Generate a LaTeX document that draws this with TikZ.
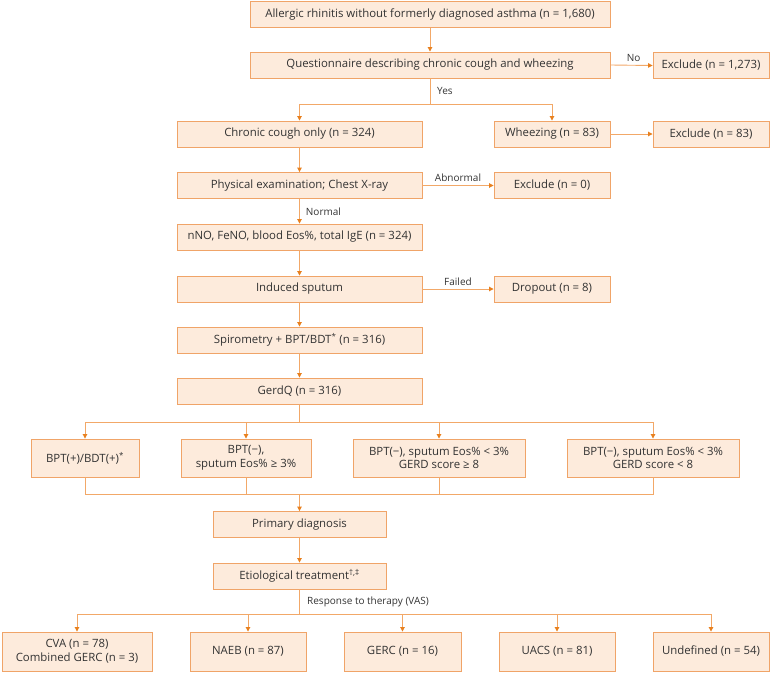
\documentclass[tikz,border=0pt]{standalone}
\usepackage{fontspec}
\setmainfont{Open Sans}
\usetikzlibrary{arrows.meta}
\definecolor{boxfill}{HTML}{FDEBDC}
\definecolor{boxline}{HTML}{F0A468}
\definecolor{conn}{HTML}{F2A868}
\definecolor{tipc}{HTML}{E8801E}
\definecolor{txt}{HTML}{333333}
\tikzset{
  box/.style={draw=boxline, fill=boxfill, line width=0.9pt, text=txt, font=\fontsize{11.4}{13.5}\selectfont, align=center, inner sep=1pt, minimum height=26pt},
  conline/.style={draw=conn, line width=0.9pt},
  arr/.style={conline, -{Triangle[length=4.5pt,width=4.5pt,color=tipc]}},
  lbl/.style={text=txt, font=\fontsize{10}{12}\selectfont, inner sep=1pt}
}
\begin{document}
\begin{tikzpicture}[x=1pt,y=-1pt]
\useasboundingbox (0,0) rectangle (771,672);
% nodes
\node[box, minimum width=360pt] (a1) at (430,14.5) {Allergic rhinitis without formerly diagnosed asthma (n = 1,680)};
\node[box, minimum width=360pt] (a2) at (430,65) {Questionnaire describing chronic cough and wheezing};
\node[box, minimum width=116pt] (ex1) at (711,65.5) {Exclude (n = 1,273)};
\node[box, minimum width=245pt] (cc) at (299.5,134) {Chronic cough only (n = 324)};
\node[box, minimum width=116pt] (wh) at (552,134) {Wheezing (n = 83)};
\node[box, minimum width=116pt] (ex2) at (711,134) {Exclude (n = 83)};
\node[box, minimum width=245pt] (pe) at (299.5,185.5) {Physical examination; Chest X-ray};
\node[box, minimum width=116pt] (ex3) at (552,185.5) {Exclude (n = 0)};
\node[box, minimum width=245pt] (nno) at (299.5,237) {nNO, FeNO, blood Eos\%, total IgE (n = 324)};
\node[box, minimum width=245pt] (is) at (299.5,289) {Induced sputum};
\node[box, minimum width=116pt] (dr) at (552,289) {Dropout (n = 8)};
\node[box, minimum width=245pt] (sp) at (299.5,340) {Spirometry + BPT/BDT\textsuperscript{*} (n = 316)};
\node[box, minimum width=245pt] (gq) at (299.5,391) {GerdQ (n = 316)};
\node[box, minimum width=108pt, minimum height=38pt] (ca) at (85,458) {BPT(+)/BDT(+)\textsuperscript{*}};
\node[box, minimum width=130pt, minimum height=38pt] (cb) at (246,458) {BPT(−),\\sputum Eos\% ≥ 3\%};
\node[box, minimum width=172pt, minimum height=38pt] (ccd) at (439,458) {BPT(−), sputum Eos\% < 3\%\\GERD score ≥ 8};
\node[box, minimum width=172pt, minimum height=38pt] (cd) at (653,458) {BPT(−), sputum Eos\% < 3\%\\GERD score < 8};
\node[box, minimum width=173pt] (pd) at (299.5,524.5) {Primary diagnosis};
\node[box, minimum width=173pt] (et) at (299.5,576) {Etiological treatment\textsuperscript{†,‡}};
\node[box, minimum width=150pt, minimum height=39pt] (cva) at (77,651.5) {CVA (n = 78)\\Combined GERC (n = 3)};
\node[box, minimum width=116pt, minimum height=39pt] (naeb) at (248,651.5) {NAEB (n = 87)};
\node[box, minimum width=117pt, minimum height=39pt] (gerc) at (402.5,651.5) {GERC (n = 16)};
\node[box, minimum width=116pt, minimum height=39pt] (uacs) at (557,651.5) {UACS (n = 81)};
\node[box, minimum width=116pt, minimum height=39pt] (und) at (711,651.5) {Undefined (n = 54)};
% branch coordinates
\coordinate (b1) at (430,104);
\coordinate (b2) at (299.5,422);
\coordinate (b3) at (299.5,494);
\coordinate (b4) at (299.5,614);
% connectors
\draw[arr] (a1) -- (a2);
\draw[arr] (a2.east) -- node[lbl, pos=0.55, above, yshift=2pt] {No} (ex1.west);
\draw[conline] (a2.south) -- (b1);
\draw[arr] (b1) -| (cc.north);
\draw[arr] (b1) -| (wh.north);
\node[lbl, anchor=west] (yes) at (436,91) {Yes};
\draw[arr] (wh.east) -- (ex2.west);
\draw[arr] (cc) -- (pe);
\draw[arr] (pe.east) -- node[lbl, above, yshift=2pt] {Abnormal} (ex3.west);
\draw[arr] (pe) -- node[lbl, right, xshift=5pt] {Normal} (nno);
\draw[arr] (nno) -- (is);
\draw[arr] (is.east) -- node[lbl, above, yshift=2pt] {Failed} (dr.west);
\draw[arr] (is) -- (sp);
\draw[arr] (sp) -- (gq);
\draw[conline] (gq.south) -- (b2);
\draw[arr] (b2) -| (ca.north);
\draw[arr] (b2) -| (cb.north);
\draw[arr] (b2) -| (ccd.north);
\draw[arr] (b2) -| (cd.north);
\draw[conline] (ca.south) |- (b3);
\draw[conline] (cb.south) |- (b3);
\draw[conline] (ccd.south) |- (b3);
\draw[conline] (cd.south) |- (b3);
\draw[arr] (b3) -- (pd.north);
\draw[arr] (pd) -- (et);
\draw[conline] (et.south) -- (b4);
\node[lbl, anchor=west] (resp) at (306,602) {Response to therapy (VAS)};
\draw[arr] (b4) -| (cva.north);
\draw[arr] (b4) -| (naeb.north);
\draw[arr] (b4) -| (gerc.north);
\draw[arr] (b4) -| (uacs.north);
\draw[arr] (b4) -| (und.north);
\end{tikzpicture}
\end{document}
